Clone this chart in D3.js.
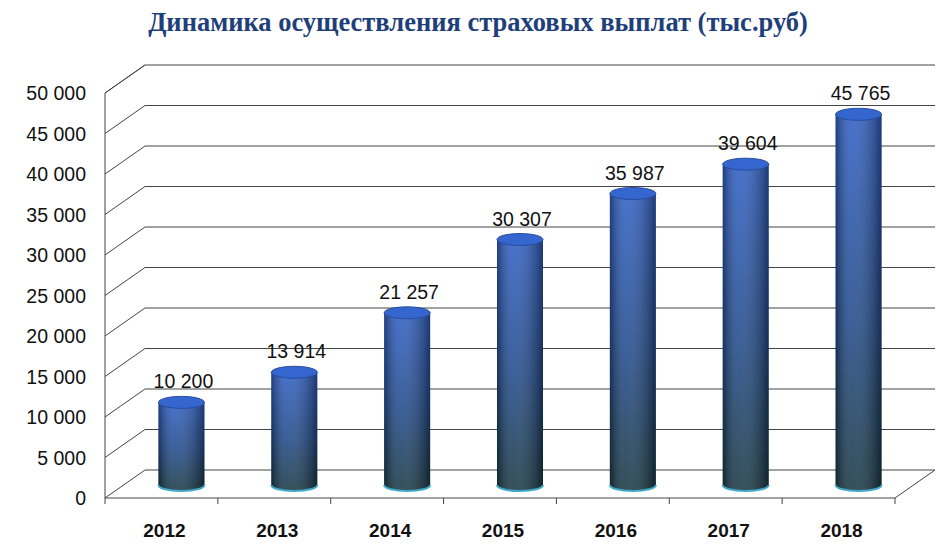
<!DOCTYPE html>
<html><head><meta charset="utf-8">
<script src="https://cdn.jsdelivr.net/npm/d3@7"></script>
<style>body{margin:0;background:#fff}</style></head>
<body><svg id="c" width="949" height="551"></svg>
<script>
const years = ["2012","2013","2014","2015","2016","2017","2018"];
const values = [10200, 13914, 21257, 30307, 35987, 39604, 45765];
const ticks = [0,5000,10000,15000,20000,25000,30000,35000,40000,45000,50000];
const title = "Динамика осуществления страховых выплат (тыс.руб)";

const svg = d3.select("#c");
const fmt = v => d3.format(",")(v).replace(/,/g, " ");
const dx = 40, dy = 28;
const x0 = 105, x1 = 895;
const y = d3.scaleLinear().domain([0, 50000]).range([498, 93]);
const x = d3.scalePoint().domain(years).range([x0, x1]).padding(0.5);

const defs = svg.append("defs");
const gv = defs.append("linearGradient").attr("id","gv").attr("x1",0).attr("y1",0).attr("x2",0).attr("y2",1);
gv.append("stop").attr("offset","0%").attr("stop-color","#2f5fc4");
gv.append("stop").attr("offset","55%").attr("stop-color","#214a8a");
gv.append("stop").attr("offset","100%").attr("stop-color","#183843");
const gh = defs.append("linearGradient").attr("id","gh").attr("x1",0).attr("x2",1);
gh.append("stop").attr("offset","0%").attr("stop-color","#000").attr("stop-opacity",0.35);
gh.append("stop").attr("offset","35%").attr("stop-color","#fff").attr("stop-opacity",0.12);
gh.append("stop").attr("offset","100%").attr("stop-color","#000").attr("stop-opacity",0.4);

svg.append("text").attr("x",478).attr("y",31).attr("text-anchor","middle")
  .attr("font-family","Liberation Serif").attr("font-weight","bold").attr("font-size",26.5)
  .attr("fill","#1f3f7a").text(title);

const g = svg.append("g");
ticks.forEach(t => {
  const yy = y(t);
  g.append("path").attr("d",`M${x0},${yy}L${x0+dx},${yy-dy}L${x1+dx},${yy-dy}`)
    .attr("fill","none").attr("stroke","#444").attr("stroke-width",1);
  g.append("text").attr("x",86).attr("y",yy+7).attr("text-anchor","end")
    .attr("font-family","Liberation Sans").attr("font-size",19.5).attr("fill","#111").text(fmt(t));
});
g.append("path").attr("d",`M${x0},${y(0)}L${x0},${y(50000)}L${x0+dx},${y(50000)-dy}`).attr("fill","none").attr("stroke","#444");
g.append("path").attr("d",`M${x0},${y(0)}L${x1},${y(0)}L${x1+dx},${y(0)-dy}`).attr("fill","none").attr("stroke","#444");
g.append("path").attr("d",`M${x0},${y(0)}v6`).attr("stroke","#444");
years.forEach((yr,i)=>{
  const xx = x0 + (x1-x0)/years.length*(i+1);
  g.append("path").attr("d",`M${xx},${y(0)}v6`).attr("stroke","#444");
});

years.forEach((yr,i)=>{
  const v = values[i];
  const cx = x(yr) + dx/2;
  const rx = 23, ry = 6;
  const base = y(0) - dy/2 + 1;
  const top = base - (y(0) - y(v));
  const body = `M${cx-rx},${top}L${cx-rx},${base}A${rx},${ry} 0 0 0 ${cx+rx},${base}L${cx+rx},${top}Z`;
  svg.append("path").attr("d",body).attr("fill","url(#gv)");
  svg.append("path").attr("d",body).attr("fill","url(#gh)");
  svg.append("path").attr("d",`M${cx-rx},${base}A${rx},${ry} 0 0 0 ${cx+rx},${base}`)
    .attr("fill","none").attr("stroke","#3fa7c8").attr("stroke-width",2);
  svg.append("ellipse").attr("cx",cx).attr("cy",top).attr("rx",rx).attr("ry",ry)
    .attr("fill","#3566d0").attr("stroke","#254c9e").attr("stroke-width",1);
  svg.append("text").attr("x",cx+2).attr("y",top-14).attr("text-anchor","middle")
    .attr("font-family","Liberation Sans").attr("font-size",19.5).attr("fill","#111").text(fmt(v));
  svg.append("text").attr("x",x(yr)+3).attr("y",537).attr("text-anchor","middle")
    .attr("font-family","Liberation Sans").attr("font-weight","bold").attr("font-size",19).attr("fill","#111").text(yr);
});
</script></body></html>
